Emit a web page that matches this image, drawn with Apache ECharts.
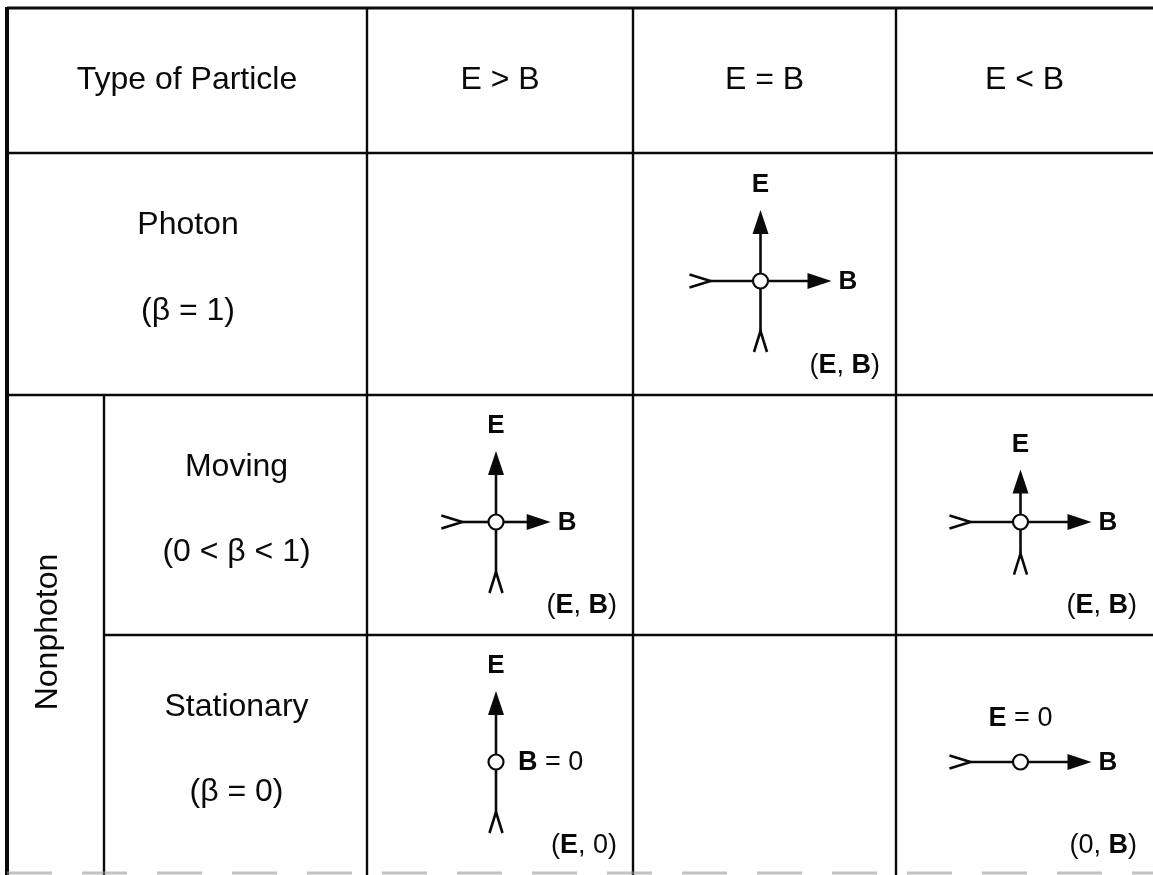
<!DOCTYPE html>
<html>
<head>
<meta charset="utf-8">
<title>Type of Particle</title>
<script src="https://cdn.jsdelivr.net/npm/echarts/dist/echarts.min.js"></script>
<style>
  html, body { margin: 0; padding: 0; background: #fff; }
  #main { width: 1153px; height: 875px; }
</style>
</head>
<body>
<div id="main"></div>
<script>
// table content
var typeHeader = 'Type of Particle';
var groupName = 'Nonphoton';
var fieldHeaders = ['E > B', 'E = B', 'E < B'];
var particleTypes = ['Photon', 'Moving', 'Stationary'];
var betaRanges = ['(β = 1)', '(0 < β < 1)', '(β = 0)'];

// cells with a field picture: row = particle type, col = field case
var cellRow = [0, 1, 1, 2, 2];
var cellCol = [1, 0, 2, 0, 2];
var eField = [1, 1, 0.74, 1, 0];     // relative length of E
var bField = [1, 0.77, 1, 0, 1];     // relative length of B
var fieldPairs = ['({b|E}, {b|B})', '({b|E}, {b|B})', '({b|E}, {b|B})', '({b|E}, 0)', '(0, {b|B})'];

// layout (axis units == px)
var W = 1153, H = 875;
var colX = [7, 104, 367, 633, 896, 1153];
var rowY = [8, 153, 395, 635, 875];
var ARM = 71;
var FONT = '"Liberation Sans", Arial, Helvetica, sans-serif';
var INK = '#0a0a0a';

var chart = echarts.init(document.getElementById('main'));

// ---- grid lines
var lineSegs = [
  [colX[0], rowY[0] - 1, colX[0], H, 4],
  [colX[1], rowY[2], colX[1], H, 2.4],
  [colX[2], rowY[0], colX[2], H, 2.4],
  [colX[3], rowY[0], colX[3], H, 2.4],
  [colX[4], rowY[0], colX[4], H, 2.4],
  [colX[0], rowY[0], W, rowY[0], 3.2],
  [colX[0], rowY[1], W, rowY[1], 2.6],
  [colX[0], rowY[2], W, rowY[2], 2.6],
  [colX[1], rowY[3], W, rowY[3], 2.6]
];

// ---- plain labels
var textItems = [];
textItems.push({x: (colX[0] + colX[2]) / 2, y: (rowY[0] + rowY[1]) / 2, text: typeHeader});
fieldHeaders.forEach(function (h, i) {
  textItems.push({x: (colX[i + 2] + colX[i + 3]) / 2, y: (rowY[0] + rowY[1]) / 2, text: h});
});
particleTypes.forEach(function (p, i) {
  var left = i === 0 ? colX[0] : colX[1];
  var top = rowY[i + 1], h = rowY[i + 2] - rowY[i + 1];
  textItems.push({x: (left + colX[2]) / 2 + 1, y: top + h * 0.3, text: p});
  textItems.push({x: (left + colX[2]) / 2 + 1, y: top + h * 0.655, text: betaRanges[i]});
});
textItems.push({x: 48, y: (rowY[2] + rowY[4]) / 2 - 3, text: groupName, rotate: Math.PI / 2});

// ---- field cells
var fieldData = cellRow.map(function (r, i) {
  var c = cellCol[i];
  var x0 = colX[c + 2], x1 = colX[c + 3];
  var y0 = rowY[r + 1], y1 = rowY[r + 2];
  return [(x0 + x1) / 2 - 4, (y0 + y1) / 2 + 7, eField[i], bField[i], x1 - 16, y1 - 29];
});

var boldRich = {b: {fontWeight: 'bold', fontFamily: FONT, fontSize: 27, fill: INK}};

function renderField(params, api) {
  var x = api.value(0), y = api.value(1);
  var le = api.value(2) * ARM, lb = api.value(3) * ARM;
  var c = function (dx, dy) { return api.coord([x + dx, y + dy]); };
  var R = 7.5, HEAD = 24, HW = 8, TAIL = 21, TW = 6.5;
  var ln = {stroke: INK, lineWidth: 2.6, fill: null};
  var kids = [];
  if (le > 0) {
    var a = c(0, -R), b = c(0, -le + HEAD - 2);
    kids.push({type: 'line', shape: {x1: a[0], y1: a[1], x2: b[0], y2: b[1]}, style: ln});
    kids.push({type: 'polygon', shape: {points: [c(0, -le), c(-HW, -le + HEAD), c(HW, -le + HEAD)]}, style: {fill: INK}});
    a = c(0, R); b = c(0, le - TAIL);
    kids.push({type: 'line', shape: {x1: a[0], y1: a[1], x2: b[0], y2: b[1]}, style: ln});
    kids.push({type: 'polyline', shape: {points: [c(-TW, le), c(0, le - TAIL), c(TW, le)]}, style: ln});
    var pe = c(0, -le - 25);
    kids.push({type: 'text', x: pe[0], y: pe[1], style: {text: 'E', fontFamily: FONT, fontWeight: 'bold', fontSize: 26, fill: INK, align: 'center', verticalAlign: 'middle'}});
  } else {
    var pz = c(0, -43);
    kids.push({type: 'text', x: pz[0], y: pz[1], style: {text: '{b|E} = 0', rich: boldRich, fontFamily: FONT, fontSize: 27, fill: INK, align: 'center', verticalAlign: 'middle'}});
  }
  if (lb > 0) {
    var h1 = c(-lb + TAIL, 0), h2 = c(-R, 0);
    kids.push({type: 'line', shape: {x1: h1[0], y1: h1[1], x2: h2[0], y2: h2[1]}, style: ln});
    kids.push({type: 'polyline', shape: {points: [c(-lb, -TW), c(-lb + TAIL, 0), c(-lb, TW)]}, style: ln});
    h1 = c(R, 0); h2 = c(lb - HEAD + 2, 0);
    kids.push({type: 'line', shape: {x1: h1[0], y1: h1[1], x2: h2[0], y2: h2[1]}, style: ln});
    kids.push({type: 'polygon', shape: {points: [c(lb, 0), c(lb - HEAD, -HW), c(lb - HEAD, HW)]}, style: {fill: INK}});
    var pb = c(lb + 7, 0);
    kids.push({type: 'text', x: pb[0], y: pb[1] + 1, style: {text: 'B', fontFamily: FONT, fontWeight: 'bold', fontSize: 26, fill: INK, align: 'left', verticalAlign: 'middle'}});
  } else {
    var pz2 = c(22, 0);
    kids.push({type: 'text', x: pz2[0], y: pz2[1] + 1, style: {text: '{b|B} = 0', rich: boldRich, fontFamily: FONT, fontSize: 27, fill: INK, align: 'left', verticalAlign: 'middle'}});
  }
  var o = c(0, 0);
  kids.push({type: 'circle', shape: {cx: o[0], cy: o[1], r: R}, style: {fill: '#fff', stroke: INK, lineWidth: 2.2}});
  var pl = api.coord([api.value(4), api.value(5)]);
  kids.push({type: 'text', x: pl[0], y: pl[1], style: {text: fieldPairs[params.dataIndex], rich: boldRich, fontFamily: FONT, fontSize: 27, fill: INK, align: 'right', verticalAlign: 'middle'}});
  return {type: 'group', children: kids};
}

chart.setOption({
  animation: false,
  backgroundColor: '#fff',
  grid: {left: 0, right: 0, top: 0, bottom: 0},
  xAxis: {type: 'value', min: 0, max: W, show: false},
  yAxis: {type: 'value', min: 0, max: H, inverse: true, show: false},
  series: [
    {
      type: 'custom',
      name: 'lines',
      silent: true,
      data: lineSegs,
      renderItem: function (params, api) {
        var p1 = api.coord([api.value(0), api.value(1)]);
        var p2 = api.coord([api.value(2), api.value(3)]);
        return {type: 'line', shape: {x1: p1[0], y1: p1[1], x2: p2[0], y2: p2[1]},
          style: {stroke: INK, lineWidth: api.value(4)}};
      }
    },
    {
      // scan edge at the bottom
      type: 'custom',
      name: 'edge',
      silent: true,
      data: [[colX[0], H - 2, W, H - 2]],
      renderItem: function (params, api) {
        var p1 = api.coord([api.value(0), api.value(1)]);
        var p2 = api.coord([api.value(2), api.value(3)]);
        return {type: 'line', shape: {x1: p1[0], y1: p1[1], x2: p2[0], y2: p2[1]},
          style: {stroke: '#999', lineWidth: 3, lineDash: [45, 30], opacity: 0.6}};
      }
    },
    {
      type: 'custom',
      name: 'labels',
      silent: true,
      data: textItems.map(function (t) { return [t.x, t.y]; }),
      renderItem: function (params, api) {
        var t = textItems[params.dataIndex];
        var p = api.coord([api.value(0), api.value(1)]);
        return {type: 'text', x: p[0], y: p[1], rotation: t.rotate || 0,
          style: {text: t.text, fontFamily: FONT, fontSize: 32, fill: INK, align: 'center', verticalAlign: 'middle'}};
      }
    },
    {
      type: 'custom',
      name: 'fields',
      silent: true,
      data: fieldData,
      renderItem: renderField
    }
  ]
});
</script>
</body>
</html>
